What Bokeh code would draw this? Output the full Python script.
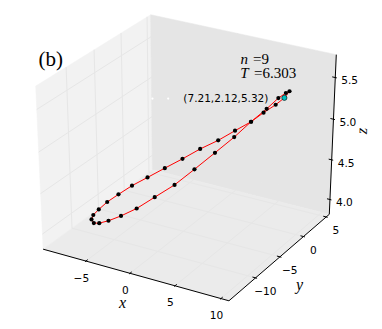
import numpy as np
from bokeh.plotting import figure
from bokeh.models import Range1d, Label
from bokeh.core.properties import value
from bokeh.embed import file_html
from bokeh.resources import INLINE

# ---------------- data: sampled periodic orbit ----------------
orbit_x = [7.21, 8.47, 9.20, 9.61, 9.65, 9.23, 8.52, 7.37, 5.84, 4.08, 2.06, -0.02, -2.06, -3.95, -5.58, -6.89,
           -7.89, -8.45, -8.64, -8.51, -8.06, -7.35, -6.41, -5.25, -3.96, -2.56, -0.97, 0.66, 2.40, 3.99, 5.69]
orbit_y = [2.12, 0.69, -1.50, -3.82, -6.21, -8.46, -10.36, -11.91, -13.03, -13.68, -13.92, -13.80, -13.36, -12.64,
           -11.77, -10.71, -9.57, -8.35, -7.02, -5.61, -4.16, -2.68, -1.18, 0.32, 1.68, 2.84, 3.73, 4.26, 4.40, 3.99, 3.27]
orbit_z = [5.32, 5.49, 5.58, 5.63, 5.61, 5.55, 5.44, 5.30, 5.12, 4.92, 4.73, 4.53, 4.36, 4.21, 4.09, 4.00,
           3.96, 3.94, 3.94, 3.97, 4.01, 4.07, 4.13, 4.21, 4.30, 4.41, 4.52, 4.66, 4.81, 4.98, 5.15]
start_point = (7.21, 2.12, 5.32)
n_value = 9
period_T = 6.303
x_ticks = [-5, 0, 5, 10]
y_ticks = [-10, -5, 0, 5]
z_ticks = [4.0, 4.5, 5.0, 5.5]
panel_tag = "(b)"

# ---------------- 3-D view (matplotlib-like perspective) ----------------
ELEV, AZIM, DIST = 29.459, -59.942, 10.0
XBOX = (-9.962, 10.857)
YBOX = (-15.250, 5.697)
ZBOX = (3.8105, 5.7696)
W, H = 374, 321
SX, SY = 2145.5, 1852.3          # pixels per projected unit
OX, OY = 195.92 - 8, 160.25 - 8  # projected origin in frame pixels (from top-left)

el, az = np.radians(ELEV), np.radians(AZIM)
NV = np.array([np.cos(az) * np.cos(el), np.sin(az) * np.cos(el), np.sin(el)])
UV = np.cross([0, 0, 1.0], NV)
UV /= np.linalg.norm(UV)
VV = np.cross(NV, UV)


def proj(x, y, z):
    x = np.atleast_1d(np.asarray(x, float))
    y = np.atleast_1d(np.asarray(y, float))
    z = np.atleast_1d(np.asarray(z, float))
    q = np.stack([(x - XBOX[0]) / (XBOX[1] - XBOX[0]) - 0.5,
                  (y - YBOX[0]) / (YBOX[1] - YBOX[0]) - 0.5,
                  (z - ZBOX[0]) / (ZBOX[1] - ZBOX[0]) - 0.5], axis=-1)
    den = DIST - q @ NV
    return (q @ UV) / den, (q @ VV) / den


def shift(px, py, dx, dy):
    """move projected coords by screen pixels (dy positive = down)"""
    return np.asarray(px) + dx / SX, np.asarray(py) - dy / SY


def path(pts):
    a = np.array(pts, float)
    px, py = proj(a[:, 0], a[:, 1], a[:, 2])
    return list(px), list(py)


p = figure(width=W, height=H, output_backend="svg", toolbar_location=None,
           x_range=Range1d(-OX / SX, (W - OX) / SX), y_range=Range1d(-(H - OY) / SY, OY / SY),
           x_axis_location=None, y_axis_location=None, min_border=0)
p.grid.visible = False
p.outline_line_color = None
p.background_fill_color = "white"
p.border_fill_color = "white"

x0, x1 = XBOX
y0, y1 = YBOX
z0, z1 = ZBOX

# panes
panes = [
    ([(x0, y0, z0), (x0, y1, z0), (x0, y1, z1), (x0, y0, z1)], "#f2f2f2"),
    ([(x0, y1, z0), (x1, y1, z0), (x1, y1, z1), (x0, y1, z1)], "#e5e5e5"),
    ([(x0, y0, z0), (x1, y0, z0), (x1, y1, z0), (x0, y1, z0)], "#ebebeb"),
]
pxs, pys, pcols = [], [], []
for pts, col in panes:
    a, b = path(pts)
    pxs.append(a); pys.append(b); pcols.append(col)
p.patches(pxs, pys, fill_color=pcols, line_color=pcols, line_width=0.5)

# grid lines
gxs, gys = [], []
for t in x_ticks:
    a, b = path([(t, y0, z0), (t, y1, z0), (t, y1, z1)]); gxs.append(a); gys.append(b)
for t in y_ticks:
    a, b = path([(x1, t, z0), (x0, t, z0), (x0, t, z1)]); gxs.append(a); gys.append(b)
for t in z_ticks:
    a, b = path([(x0, y0, t), (x0, y1, t), (x1, y1, t)]); gxs.append(a); gys.append(b)
p.multi_line(gxs, gys, line_color="#e6e6e6", line_width=1)

# axis lines
axs, ays = [], []
for pts in ([(x0, y0, z0), (x1, y0, z0)], [(x1, y0, z0), (x1, y1, z0)], [(x1, y1, z0), (x1, y1, z1)]):
    a, b = path(pts); axs.append(a); ays.append(b)
p.multi_line(axs, ays, line_color="black", line_width=1)

# tick marks
ddx = (x1 - x0) / 12.5
ddy = (y1 - y0) / 12.5
txs, tys = [], []
for t in x_ticks:
    a, b = path([(t, y0 - 0.1 * ddy, z0), (t, y0 + 0.2 * ddy, z0)]); txs.append(a); tys.append(b)
for t in y_ticks:
    a, b = path([(x1 + 0.1 * ddx, t, z0), (x1 - 0.2 * ddx, t, z0)]); txs.append(a); tys.append(b)
for t in z_ticks:
    a, b = path([(x1 + 0.1 * ddx, y1, t), (x1 - 0.2 * ddx, y1, t)]); txs.append(a); tys.append(b)
p.multi_line(txs, tys, line_color="black", line_width=1)


def fmt(v):
    s = f"{v:.1f}" if isinstance(v, float) else f"{v:d}"
    return s.replace("-", "\u2212")


tick_font = value("DejaVu Sans")
# x tick labels
px, py = proj(x_ticks, [y0] * 4, [z0] * 4)
lx, ly = shift(px, py, -4.5, 16.5)
p.text(list(lx), list(ly), text=[fmt(t) for t in x_ticks], text_font=tick_font, text_font_size="10.6px",
       text_align="center", text_baseline="middle", text_color="black")
# y tick labels
px, py = proj([x1] * 4, y_ticks, [z0] * 4)
lx, ly = shift(px, py, 9.8, 13.5)
p.text(list(lx), list(ly), text=[fmt(t) for t in y_ticks], text_font=tick_font, text_font_size="10.6px",
       text_align="center", text_baseline="middle", text_color="black")
# z tick labels
px, py = proj([x1] * 4, [y1] * 4, z_ticks)
lx, ly = shift(px, py, 14.4, 2.8)
p.text(list(lx), list(ly), text=[fmt(t) for t in z_ticks], text_font=tick_font, text_font_size="10.6px",
       text_align="center", text_baseline="middle", text_color="black")

# orbit
ox, oy = proj(orbit_x + orbit_x[:1], orbit_y + orbit_y[:1], orbit_z + orbit_z[:1])
p.line(list(ox), list(oy), line_color="#ff0000", line_width=1.0)
dx_, dy_ = proj(orbit_x, orbit_y, orbit_z)
p.scatter(list(dx_), list(dy_), size=4.2, fill_color="black", line_color=None)

# start point + annotation
sx_, sy_ = proj(*[[c] for c in start_point])
wx, wy = shift([sx_[0], sx_[0]], [sy_[0], sy_[0]], np.array([-131.9, -116.2]), np.array([0.7, 0.7]))
p.scatter(list(wx), list(wy), size=2.2, fill_color="white", line_color=None)
p.scatter(list(sx_), list(sy_), size=5.2, fill_color="#00bfbf", line_color="black", line_width=0.6)
label = "(" + ",".join(f"{c:.2f}" for c in start_point) + ")"
p.text(list(sx_), list(sy_), text=[label], x_offset=-16, text_align="right", text_baseline="middle",
       text_font=tick_font, text_font_size="10.5px", text_color="black")

# axis labels
serif = "Liberation Serif"
p.add_layout(Label(x=122, y=19, x_units="screen", y_units="screen", text="x", text_font=serif,
                   text_font_style="italic", text_font_size="16px", text_align="center",
                   text_baseline="alphabetic", text_color="black"))
p.add_layout(Label(x=299, y=37.5, x_units="screen", y_units="screen", text="y", text_font=serif,
                   text_font_style="italic", text_font_size="16px", text_align="center",
                   text_baseline="alphabetic", text_color="black"))
p.add_layout(Label(x=361, y=190.7, x_units="screen", y_units="screen", text="z", text_font=serif,
                   text_font_style="italic", text_font_size="16px", text_align="center",
                   text_baseline="middle", angle=np.radians(87.2), text_color="black"))

# panel tag and n, T annotation
p.add_layout(Label(x=38, y=262.5, x_units="screen", y_units="screen", text=panel_tag, text_font=serif,
                   text_font_size="21px", text_baseline="alphabetic", text_color="black"))
p.add_layout(Label(x=240, y=262.3, x_units="screen", y_units="screen", text="n", text_font=serif,
                   text_font_style="italic", text_font_size="15px", text_baseline="alphabetic",
                   text_color="black"))
p.add_layout(Label(x=252.5, y=262.3, x_units="screen", y_units="screen", text=f"={n_value}", text_font=serif,
                   text_font_size="15px", text_baseline="alphabetic", text_color="black"))
p.add_layout(Label(x=239.7, y=249, x_units="screen", y_units="screen", text="T", text_font=serif,
                   text_font_style="italic", text_font_size="15px", text_baseline="alphabetic",
                   text_color="black"))
p.add_layout(Label(x=253.5, y=249, x_units="screen", y_units="screen", text=f"={period_T:.3f}", text_font=serif,
                   text_font_size="15px", text_baseline="alphabetic", text_color="black"))

open("out.html", "w").write(file_html(p, INLINE))
